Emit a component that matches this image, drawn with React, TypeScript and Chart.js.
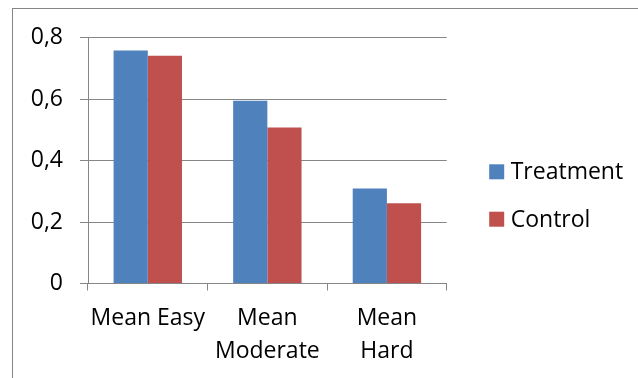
import React, { useEffect, useRef } from "react";
import { Chart, registerables } from "chart.js";

Chart.register(...registerables);

// Data
const categories: (string | string[])[] = ["Mean Easy", ["Mean", "Moderate"], ["Mean", "Hard"]];
const treatmentValues = [0.758, 0.594, 0.309];
const controlValues = [0.741, 0.507, 0.261];
const seriesNames = ["Treatment", "Control"];
const yTickLabels = ["0", "0,2", "0,4", "0,6", "0,8"];

const W = 638;
const H = 378;
const FONT = "'Open Sans', sans-serif";
const FONT_SIZE = 23;
const LINE = "#868686";
const COLORS = ["#4F81BD", "#C0504D"];

// White background and the outer chart frame
const framePlugin = {
  id: "frame",
  beforeDraw(chart: Chart) {
    const ctx = chart.ctx;
    ctx.save();
    ctx.fillStyle = "#ffffff";
    ctx.fillRect(0, 0, chart.width, chart.height);
    ctx.strokeStyle = LINE;
    ctx.lineWidth = 1;
    ctx.strokeRect(12.5, 8.5, chart.width + 50, chart.height + 50);
    ctx.restore();
  },
};

// Legend on the right, one row per dataset
const legendPlugin = {
  id: "sideLegend",
  afterDraw(chart: Chart) {
    const ctx = chart.ctx;
    const x = chart.chartArea.right + 42.5;
    const firstTop = 164.3;
    const rowGap = 47.4;
    const box = 15;
    ctx.save();
    ctx.font = `${FONT_SIZE}px ${FONT}`;
    ctx.textBaseline = "alphabetic";
    ctx.textAlign = "left";
    chart.data.datasets.forEach((ds: any, i: number) => {
      const top = firstTop + i * rowGap;
      ctx.fillStyle = ds.backgroundColor as string;
      ctx.fillRect(x, top, box, box);
      ctx.fillStyle = "#000000";
      ctx.fillText(ds.label, x + box + 6.5, top + box);
    });
    ctx.restore();
  },
};

export default function App() {
  const ref = useRef<HTMLCanvasElement | null>(null);

  useEffect(() => {
    if (!ref.current) return;
    const chart = new Chart(ref.current, {
      type: "bar",
      data: {
        labels: categories,
        datasets: [
          { label: seriesNames[0], data: treatmentValues, backgroundColor: COLORS[0] },
          { label: seriesNames[1], data: controlValues, backgroundColor: COLORS[1] },
        ],
      },
      options: {
        animation: false,
        responsive: false,
        devicePixelRatio: 1,
        layout: { padding: { left: 0, top: 37.5, right: 191.3, bottom: 0 } },
        datasets: {
          bar: { categoryPercentage: 0.572, barPercentage: 1 },
        },
        plugins: {
          legend: { display: false },
          tooltip: { enabled: false },
        },
        scales: {
          x: {
            afterFit(scale: any) {
              scale.height = H - 283.5;
            },
            grid: {
              drawOnChartArea: false,
              drawTicks: true,
              tickLength: 7,
              color: LINE,
              offset: true,
            },
            border: { display: true, color: LINE },
            ticks: {
              color: "#000000",
              font: { family: FONT, size: FONT_SIZE, lineHeight: 1.41 },
              padding: 12,
              maxRotation: 0,
              autoSkip: false,
            },
          },
          y: {
            min: 0,
            max: 0.8,
            afterFit(scale: any) {
              scale.width = 88;
            },
            grid: { color: LINE, tickLength: 8 },
            border: { display: true, color: LINE },
            ticks: {
              stepSize: 0.2,
              color: "#000000",
              font: { family: FONT, size: FONT_SIZE },
              padding: 17,
              callback: (_v: any, i: number) => yTickLabels[i],
            },
          },
        },
      },
      plugins: [framePlugin, legendPlugin],
    });
    return () => chart.destroy();
  }, []);

  return (
    <div style={{ position: "absolute", left: 0, top: 0, width: W, height: H, overflow: "hidden" }}>
      <canvas ref={ref} width={W} height={H} style={{ display: "block", width: W, height: H }} />
    </div>
  );
}
